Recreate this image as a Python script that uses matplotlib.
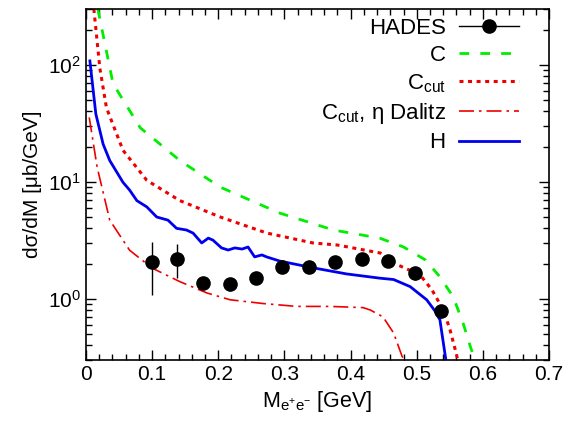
import matplotlib.pyplot as plt
from matplotlib.lines import Line2D
from matplotlib.ticker import MultipleLocator, LogLocator, NullFormatter

plt.rcParams['font.family'] = ['Liberation Sans', 'DejaVu Sans']
plt.rcParams['mathtext.default'] = 'regular'

# HADES data
m_hades = [0.100, 0.137, 0.177, 0.217, 0.257, 0.297, 0.337, 0.377, 0.417, 0.457, 0.497, 0.537]
y_hades = [2.07, 2.19, 1.37, 1.34, 1.51, 1.87, 1.87, 2.07, 2.19, 2.10, 1.66, 0.79]
err_lo = [0.99, 0.69, 0.17, 0.17, 0.18, 0.22, 0.22, 0.22, 0.22, 0.22, 0.20, 0.10]
err_hi = [1.00, 0.75, 0.17, 0.17, 0.18, 0.22, 0.22, 0.22, 0.22, 0.22, 0.20, 0.10]

# C
m_c = [0.018, 0.041, 0.082, 0.142, 0.203, 0.293, 0.374, 0.444, 0.480, 0.513, 0.535, 0.555, 0.570, 0.581, 0.588]
y_c = [300, 69, 29, 15.2, 9.0, 5.4, 3.87, 3.3, 2.77, 2.15, 1.54, 1.04, 0.62, 0.39, 0.30]

# C_cut
m_ccut = [0.012, 0.021, 0.031, 0.056, 0.092, 0.142, 0.203, 0.273, 0.343, 0.380, 0.445, 0.465, 0.505, 0.523, 0.540, 0.550, 0.558, 0.562]
y_ccut = [300, 94, 43, 18.6, 10.3, 6.9, 5.0, 3.65, 3.0, 2.88, 2.46, 2.02, 1.6, 1.19, 0.805, 0.55, 0.37, 0.30]

# C_cut, eta Dalitz
m_eta = [0.005, 0.017, 0.036, 0.066, 0.100, 0.142, 0.183, 0.218, 0.268, 0.319, 0.369, 0.419, 0.430, 0.449, 0.465, 0.478, 0.481]
y_eta = [35.5, 13.3, 4.7, 2.6, 1.83, 1.4, 1.12, 0.98, 0.91, 0.86, 0.86, 0.84, 0.80, 0.70, 0.51, 0.32, 0.30]

# H
m_h = [0.006, 0.015, 0.026, 0.036, 0.056, 0.066, 0.077, 0.092, 0.107, 0.124, 0.137, 0.152, 0.162,
       0.175, 0.185, 0.192, 0.205, 0.215, 0.225, 0.236, 0.245, 0.255, 0.266, 0.273, 0.293, 0.343,
       0.394, 0.444, 0.465, 0.490, 0.515, 0.528, 0.535, 0.544]
y_h = [108, 38, 21, 15.2, 9.9, 8.5, 6.9, 6.1, 5.0, 4.7, 4.0, 3.87, 3.64,
       3.0, 3.3, 3.17, 2.72, 2.61, 2.72, 2.66, 2.77, 2.28, 2.37, 2.28, 2.1, 1.84,
       1.63, 1.5, 1.46, 1.27, 0.98, 0.78, 0.66, 0.30]

fig = plt.figure(figsize=(5.69, 4.30), dpi=100)
ax = fig.add_axes([0.151, 0.163, 0.814, 0.816])

ax.errorbar(m_hades, y_hades, yerr=[err_lo, err_hi], fmt='o', color='black',
            ms=9.5, elinewidth=1.0, capsize=0, zorder=5)
l_c, = ax.plot(m_c, y_c, color='#00ee00', lw=2, dashes=(3.5, 4))
l_ccut, = ax.plot(m_ccut, y_ccut, color='#ee0000', lw=2.2, dashes=(1.3, 1.5))
l_eta, = ax.plot(m_eta, y_eta, color='#ee0000', lw=1.2, dashes=(9, 3, 1.5, 3))
l_h, = ax.plot(m_h, y_h, color='#0000ee', lw=2)
h_hades = Line2D([], [], color='black', lw=1, marker='o', ms=9.5)

ax.set_yscale('log')
ax.set_xlim(0, 0.7)
ax.set_ylim(0.3, 300)
ax.xaxis.set_major_locator(MultipleLocator(0.1))
ax.xaxis.set_minor_locator(MultipleLocator(0.02))
ax.yaxis.set_minor_locator(LogLocator(base=10, subs=range(2, 10)))
ax.yaxis.set_minor_formatter(NullFormatter())
ax.xaxis.set_major_formatter(plt.FuncFormatter(lambda v, p: '0' if abs(v) < 1e-9 else f'{v:.1f}'))

ax.tick_params(which='both', direction='in', top=True, right=True, labelsize=15)
ax.tick_params(which='major', length=7, width=1)
ax.tick_params(which='minor', length=4, width=1)
for s in ax.spines.values():
    s.set_linewidth(1.2)

ax.set_xlabel('M$_{e^{+}e^{-}}$ [GeV]', fontsize=15.5)
ax.set_ylabel('dσ/dM [μb/GeV]', fontsize=15)

ax.legend([h_hades, l_c, l_ccut, l_eta, l_h],
          ['HADES', 'C', 'C$_{cut}$', 'C$_{cut}$, η Dalitz', 'H'],
          loc='upper right', bbox_to_anchor=(0.935, 0.975), frameon=False,
          markerfirst=False, fontsize=16, handlelength=2.7, handletextpad=0.6,
          labelspacing=0.28, borderaxespad=0, borderpad=0)

fig.savefig('out.png', dpi=100)
